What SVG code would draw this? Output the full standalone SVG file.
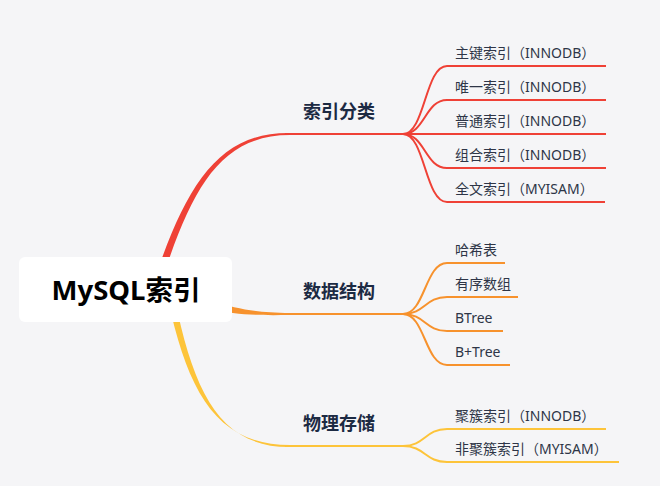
<svg xmlns="http://www.w3.org/2000/svg" width="660" height="486" viewBox="0 0 660 486">
<style>
.bg{fill:#f5f5f7}
.sub{fill:none;stroke-width:2;stroke-linecap:butt}
.red{stroke:#ef4136}
.orange{stroke:#f7922d}
.yellow{stroke:#fdc43a}
.main{font-family:"Noto Sans CJK SC","Noto Sans",sans-serif;font-size:18px;font-weight:bold;fill:#1c2a43;text-anchor:middle}
.leaf{font-family:"Noto Sans","Noto Sans CJK SC",sans-serif;font-size:14px;fill:#2e3547}
.root{font-family:"Noto Sans","Noto Sans CJK SC",sans-serif;font-size:27.5px;font-weight:bold;fill:#000;text-anchor:middle}
</style>
<rect class="bg" x="0" y="0" width="660" height="486"/>
<g id="connectors">
  <path d="M157 272 C188 183 220 132 290 132.9 L290 135.1 C222 135 193 186 164 274 Z" fill="#ef4136"/>
  <path class="sub red" d="M285 134 L403 134"/>
  <path d="M210 301 C240 309 256 313 290 313 L290 315 C256 315.5 238 315 208 309 Z" fill="#f7922d"/>
  <path class="sub orange" d="M285 314 L403 314"/>
  <path d="M168 300 C188 390 215 445 290 445 L290 447 C220 447.5 194 392 175 300 Z" fill="#fdc43a"/>
  <path class="sub yellow" d="M285 446 L403 446"/>
  <path class="sub red" d="M403 134 C425 134 425 66 447 66 L606 66"/>
  <path class="sub red" d="M403 134 C425 134 425 100 447 100 L606 100"/>
  <path class="sub red" d="M403 134 L606 134"/>
  <path class="sub red" d="M403 134 C425 134 425 168 447 168 L606 168"/>
  <path class="sub red" d="M403 134 C425 134 425 202 447 202 L605 202"/>
  <path class="sub orange" d="M403 314 C425 314 425 263 447 263 L505 263"/>
  <path class="sub orange" d="M403 314 C425 314 425 297 447 297 L518 297"/>
  <path class="sub orange" d="M403 314 C425 314 425 331 447 331 L503 331"/>
  <path class="sub orange" d="M403 314 C425 314 425 365 447 365 L510 365"/>
  <path class="sub yellow" d="M403 446 C425 446 425 429 447 429 L606 429"/>
  <path class="sub yellow" d="M403 446 C425 446 425 462 447 462 L619 462"/>
</g>
<g id="root">
  <rect x="19" y="257" width="213" height="65" rx="6" fill="#ffffff"/>
  <text class="root" x="126" y="300">MySQL索引</text>
</g>
<g id="n-classify"><text class="main" x="339" y="118">索引分类</text></g>
<g id="n-structure"><text class="main" x="339" y="298">数据结构</text></g>
<g id="n-storage"><text class="main" x="339" y="430">物理存储</text></g>
<g id="l1"><text class="leaf" x="455" y="58">主键索引（INNODB）</text></g>
<g id="l2"><text class="leaf" x="455" y="92">唯一索引（INNODB）</text></g>
<g id="l3"><text class="leaf" x="455" y="126">普通索引（INNODB）</text></g>
<g id="l4"><text class="leaf" x="455" y="160">组合索引（INNODB）</text></g>
<g id="l5"><text class="leaf" x="455" y="194">全文索引（MYISAM）</text></g>
<g id="l6"><text class="leaf" x="455" y="255">哈希表</text></g>
<g id="l7"><text class="leaf" x="455" y="289">有序数组</text></g>
<g id="l8"><text class="leaf" x="455" y="323">BTree</text></g>
<g id="l9"><text class="leaf" x="455" y="357">B+Tree</text></g>
<g id="l10"><text class="leaf" x="455" y="421">聚簇索引（INNODB）</text></g>
<g id="l11"><text class="leaf" x="455" y="454">非聚簇索引（MYISAM）</text></g>
</svg>
